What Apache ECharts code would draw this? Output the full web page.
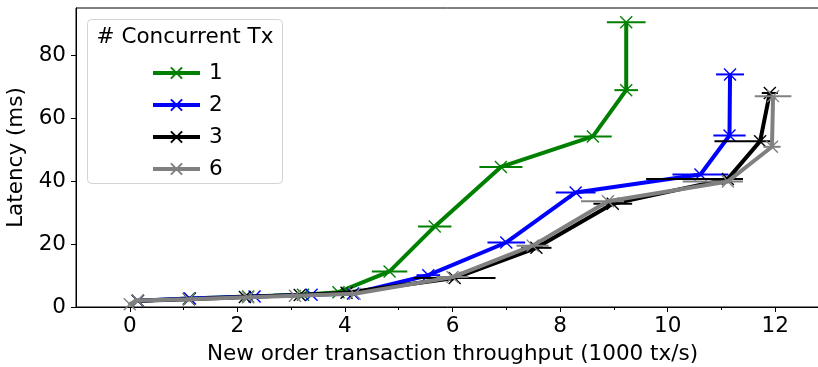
<!DOCTYPE html>
<html>
<head>
<meta charset="utf-8">
<script src="https://cdn.jsdelivr.net/npm/echarts@6/dist/echarts.min.js"></script>
<style>html,body{margin:0;padding:0;background:#fff;}#c{width:818px;height:367px;}</style>
</head>
<body>
<div id="c"></div>
<script>
// ---- data (throughput in 1000 tx/s, latency in ms) ----
const seriesNames = ['1', '2', '3', '6'];
const seriesColors = ['#008000', '#0000ff', '#000000', '#808080'];

const tx1X = [0.15, 1.10, 2.20, 3.22, 3.88, 4.83, 5.67, 6.90, 8.61, 9.23, 9.23];
const tx1Y = [2.0, 2.7, 3.3, 3.9, 4.7, 11.3, 25.6, 44.5, 54.2, 68.9, 90.5];
const tx1ErrL = [0.05, 0.05, 0.08, 0.55, 0.10, 0.33, 0.31, 0.40, 0.35, 0.22, 0.36];
const tx1ErrR = [0.05, 0.05, 0.08, 0.15, 0.10, 0.33, 0.31, 0.40, 0.35, 0.22, 0.36];

const tx2X = [0.15, 1.12, 2.32, 3.38, 4.15, 5.55, 7.00, 8.29, 10.61, 11.15, 11.16];
const tx2Y = [2.0, 2.7, 3.3, 3.9, 4.3, 10.1, 20.5, 36.4, 42.1, 54.5, 73.9];
const tx2ErrL = [0.05, 0.05, 0.08, 0.10, 0.10, 0.22, 0.35, 0.37, 0.52, 0.30, 0.26];
const tx2ErrR = [0.05, 0.05, 0.08, 0.10, 0.10, 0.22, 0.35, 0.37, 0.52, 0.30, 0.26];

const tx3X = [0.15, 1.10, 2.14, 3.16, 4.03, 6.04, 7.56, 8.98, 11.12, 11.72, 11.90];
const tx3Y = [2.0, 2.5, 3.2, 3.8, 4.5, 9.2, 18.8, 32.8, 40.7, 52.7, 68.0];
const tx3ErrL = [0.05, 0.05, 0.08, 0.10, 0.10, 0.76, 0.28, 0.36, 1.52, 0.85, 0.15];
const tx3ErrR = [0.05, 0.05, 0.08, 0.10, 0.10, 0.76, 0.28, 0.36, 0.28, 0.20, 0.15];

const tx6X = [0.00, 0.15, 1.10, 2.20, 3.07, 4.18, 6.00, 7.49, 8.89, 11.12, 11.94, 11.96];
const tx6Y = [0.9, 2.1, 2.5, 3.1, 3.6, 4.2, 9.5, 19.5, 33.6, 39.9, 50.9, 67.0];
const tx6ErrL = [0.03, 0.05, 0.05, 0.08, 0.10, 0.10, 0.30, 0.30, 0.50, 0.84, 0.16, 0.34];
const tx6ErrR = [0.03, 0.05, 0.05, 0.08, 0.10, 0.10, 0.30, 0.30, 0.30, 0.28, 0.16, 0.34];

const xMajorTicks = [0, 2, 4, 6, 8, 10, 12];
const xMinorTicks = [1, 3, 5, 7, 9, 11];

const allX = [tx1X, tx2X, tx3X, tx6X];
const allY = [tx1Y, tx2Y, tx3Y, tx6Y];
const allErrL = [tx1ErrL, tx2ErrL, tx3ErrL, tx6ErrL];
const allErrR = [tx1ErrR, tx2ErrR, tx3ErrR, tx6ErrR];

const FONT = 'DejaVu Sans';
const FS = 21.5;
const xSymbol = 'path://M0,0L10,10M10,0L0,10';

const series = [];
seriesNames.forEach((name, i) => {
  const c = seriesColors[i];
  const xs = allX[i], ys = allY[i];
  series.push({
    name: name,
    type: 'line',
    xAxisIndex: 0,
    data: xs.map((x, k) => [x, ys[k]]),
    symbol: xSymbol,
    symbolSize: 12,
    showAllSymbol: true,
    lineStyle: { color: c, width: 4 },
    itemStyle: { color: 'rgba(0,0,0,0)', borderColor: c, borderWidth: 1.4 },
    emphasis: { disabled: true },
    animation: false,
    z: 2 + i * 2,
    clip: true
  });
  series.push({
    type: 'custom',
    xAxisIndex: 0,
    data: xs.map((x, k) => [x, ys[k], x - allErrL[i][k], x + allErrR[i][k]]),
    encode: { x: [0, 2, 3], y: 1 },
    renderItem: function (params, api) {
      const y = api.value(1);
      const p1 = api.coord([api.value(2), y]);
      const p2 = api.coord([api.value(3), y]);
      return {
        type: 'line',
        shape: { x1: p1[0], y1: p1[1], x2: p2[0], y2: p2[1] },
        style: { stroke: c, lineWidth: 2 }
      };
    },
    animation: false,
    silent: true,
    z: 3 + i * 2
  });
});

const chart = echarts.init(document.getElementById('c'), null, { renderer: 'canvas' });
chart.setOption({
  animation: false,
  backgroundColor: '#fff',
  textStyle: { fontFamily: FONT },
  grid: {
    left: 76, top: 8, width: 753, height: 299,
    containLabel: false, outerBoundsMode: 'none',
    show: true, borderColor: '#000', borderWidth: 1, backgroundColor: 'rgba(0,0,0,0)'
  },
  xAxis: [{
    type: 'value', min: -1, max: 13, position: 'bottom',
    name: 'New order transaction throughput (1000 tx/s)',
    nameLocation: 'middle', nameGap: 36,
    nameTextStyle: { fontSize: FS, color: '#000', fontFamily: FONT },
    axisLine: { show: true, onZero: false, lineStyle: { color: '#000', width: 1 } },
    axisTick: { show: true, customValues: xMajorTicks, length: 5, lineStyle: { color: '#000', width: 1 } },
    axisLabel: { customValues: xMajorTicks, fontSize: FS, color: '#000', margin: 8, fontFamily: FONT },
    splitLine: { show: false }
  }, {
    type: 'value', min: -1, max: 13, position: 'bottom',
    axisLine: { show: false, onZero: false },
    axisTick: { show: true, customValues: xMinorTicks, length: 3, lineStyle: { color: '#000', width: 1 } },
    axisLabel: { show: false, customValues: xMinorTicks },
    splitLine: { show: false }
  }],
  yAxis: {
    type: 'value', min: 0, max: 95, interval: 20,
    name: 'Latency (ms)', nameLocation: 'middle', nameGap: 40,
    nameTextStyle: { fontSize: FS, color: '#000', fontFamily: FONT },
    axisLine: { show: true, onZero: false, lineStyle: { color: '#000', width: 1 } },
    axisTick: { show: true, length: 5, lineStyle: { color: '#000', width: 1 } },
    axisLabel: { fontSize: FS, color: '#000', margin: 10, fontFamily: FONT, showMaxLabel: false },
    splitLine: { show: false }
  },
  legend: {
    data: seriesNames,
    orient: 'vertical',
    left: 146, top: 57,
    itemWidth: 47, itemHeight: 14, itemGap: 10,
    lineStyle: { width: 4 },
    textStyle: { fontSize: FS, color: '#000', fontFamily: FONT, lineHeight: 22, padding: [0, 0, 0, 4] },
    selectedMode: false,
    z: 20
  },
  graphic: [{
    type: 'rect', left: 87, top: 19, z: 15,
    shape: { width: 195, height: 164, r: 4 },
    style: { fill: 'rgba(255,255,255,0.85)', stroke: '#d3d3d3', lineWidth: 1 }
  }, {
    type: 'text', z: 16,
    x: 185, y: 37,
    style: { text: '# Concurrent Tx', fontSize: FS, fontFamily: FONT, fill: '#000', align: 'center', verticalAlign: 'middle' }
  }],
  series: series
});
</script>
</body>
</html>
